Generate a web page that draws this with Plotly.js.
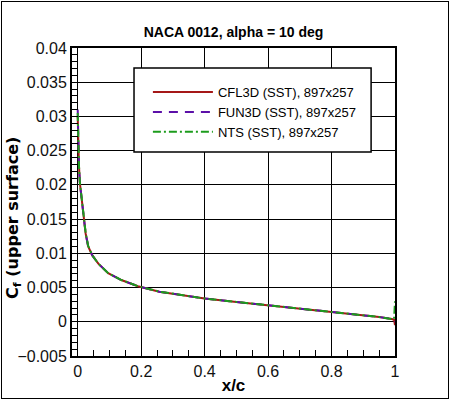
<!DOCTYPE html>
<html>
<head>
<meta charset="utf-8">
<script src="https://cdn.plot.ly/plotly-3.0.1.min.js"></script>
<style>
  html, body { margin: 0; padding: 0; background: #fff; }
  #wrap { position: relative; width: 450px; height: 401px; }
  #plot { width: 450px; height: 401px; }
  #frame { position: absolute; left: 1px; top: 1px; width: 448px; height: 398px;
           box-sizing: border-box; border: 1.5px solid #000; pointer-events: none; }
</style>
</head>
<body>
<div id="wrap">
  <div id="plot"></div>
  <div id="frame"></div>
</div>
<script>
/* ── Skin friction, NACA 0012 upper surface ── */

const X_C = [0, 0.002, 0.004, 0.007, 0.0125, 0.018, 0.025, 0.033, 0.046, 0.065,
    0.096, 0.1375, 0.19, 0.257, 0.3, 0.4, 0.5, 0.6, 0.7, 0.8,
    0.9, 0.95, 0.99, 0.997, 1.0];

const CF_CFL3D = [0.0300, 0.0251, 0.0227, 0.0202, 0.0178, 0.0154, 0.0129, 0.0110, 0.0097, 0.0085,
    0.0071, 0.0061, 0.0052, 0.0044, 0.0041, 0.0034, 0.0029, 0.0024, 0.0020, 0.0015,
    0.0010, 0.0007, 0.0004, 0.0003, -0.0005];
const CF_FUN3D = [0.0310, 0.0252, 0.0227, 0.0202, 0.0178, 0.0154, 0.0129, 0.0110, 0.0097, 0.0085,
    0.0071, 0.0061, 0.0052, 0.0044, 0.0041, 0.0034, 0.0029, 0.0024, 0.0020, 0.0015,
    0.0010, 0.0007, 0.0004, 0.0003, 0.0000];
const CF_NTS = [0.0305, 0.0252, 0.0228, 0.0203, 0.0179, 0.0155, 0.0130, 0.0111, 0.0097, 0.0085,
    0.0071, 0.0061, 0.0052, 0.0044, 0.0041, 0.0034, 0.0029, 0.0024, 0.0020, 0.0015,
    0.0010, 0.0007, 0.0004, 0.0004, 0.0030];

const NAMES = ['CFL3D (SST), 897x257', 'FUN3D (SST), 897x257', 'NTS (SST), 897x257'];
const COLORS = ['#a51818', '#5c10a8', '#1c9c1c'];
const DASHES = ['solid', '9px,7px', '8px,3px,2px,3px'];

const FONT = 'Liberation Sans, Arial, Helvetica, sans-serif';

const traces = [CF_CFL3D, CF_FUN3D, CF_NTS].map((y, i) => ({
    x: X_C,
    y,
    mode: 'lines',
    name: NAMES[i],
    line: { color: COLORS[i], width: 2, dash: DASHES[i] },
    hoverinfo: 'skip',
}));

const axisCommon = {
    showline: true, mirror: true, linecolor: '#000', linewidth: 2,
    showgrid: true, gridcolor: '#000', gridwidth: 1,
    zeroline: true, zerolinecolor: '#000', zerolinewidth: 1,
    ticks: 'inside', ticklen: 6, tickcolor: '#000', tickwidth: 1,
    tickfont: { family: FONT, size: 16, color: '#111' },
    automargin: false, fixedrange: true,
};

const layout = {
    width: 450, height: 401,
    margin: { l: 72, r: 55, t: 48, b: 45 },
    paper_bgcolor: '#fff', plot_bgcolor: '#fff',
    font: { family: FONT, color: '#000' },
    title: {
        text: '<b>NACA 0012, alpha = 10 deg</b>',
        font: { family: FONT, size: 14, color: '#000' },
        x: 0.5, xref: 'paper', xanchor: 'center',
        y: 0.92, yref: 'container', yanchor: 'middle',
    },
    xaxis: {
        ...axisCommon,
        range: [-0.018, 1], tick0: 0, dtick: 0.2,
        minor: { dtick: 0.05, ticks: 'inside', ticklen: 6, tickcolor: '#000', showgrid: false },
        title: { text: '<b>x/c</b>', font: { family: FONT, size: 17, color: '#000' }, standoff: 0 },
    },
    yaxis: {
        ...axisCommon,
        range: [-0.005, 0.04], tick0: 0, dtick: 0.005,
        minor: { dtick: 0.001, ticks: 'inside', ticklen: 6, tickcolor: '#000', showgrid: false },
    },
    showlegend: true,
    legend: {
        x: 0.235, xanchor: 'left', y: 0.792, yanchor: 'middle',
        bgcolor: 'rgba(0,0,0,0)', borderwidth: 0,
        itemwidth: 60,
        font: { family: FONT, size: 13, color: '#000' },
    },
    shapes: [{
        type: 'rect', xref: 'paper', yref: 'paper', layer: 'above',
        x0: 0.192, x1: 0.926, y0: 0.662, y1: 0.935,
        line: { color: '#000', width: 1.5 }, fillcolor: '#fff',
    }],
    annotations: [{
        text: '<b>C<sub>f</sub> (upper surface)</b>',
        xref: 'paper', yref: 'paper', x: -0.183, y: 0.448,
        xanchor: 'center', yanchor: 'middle', textangle: -90, showarrow: false,
        font: { family: 'DejaVu Sans, sans-serif', size: 16, color: '#000' },
    }],
};

Plotly.newPlot('plot', traces, layout, { staticPlot: true, displayModeBar: false });
</script>
</body>
</html>
